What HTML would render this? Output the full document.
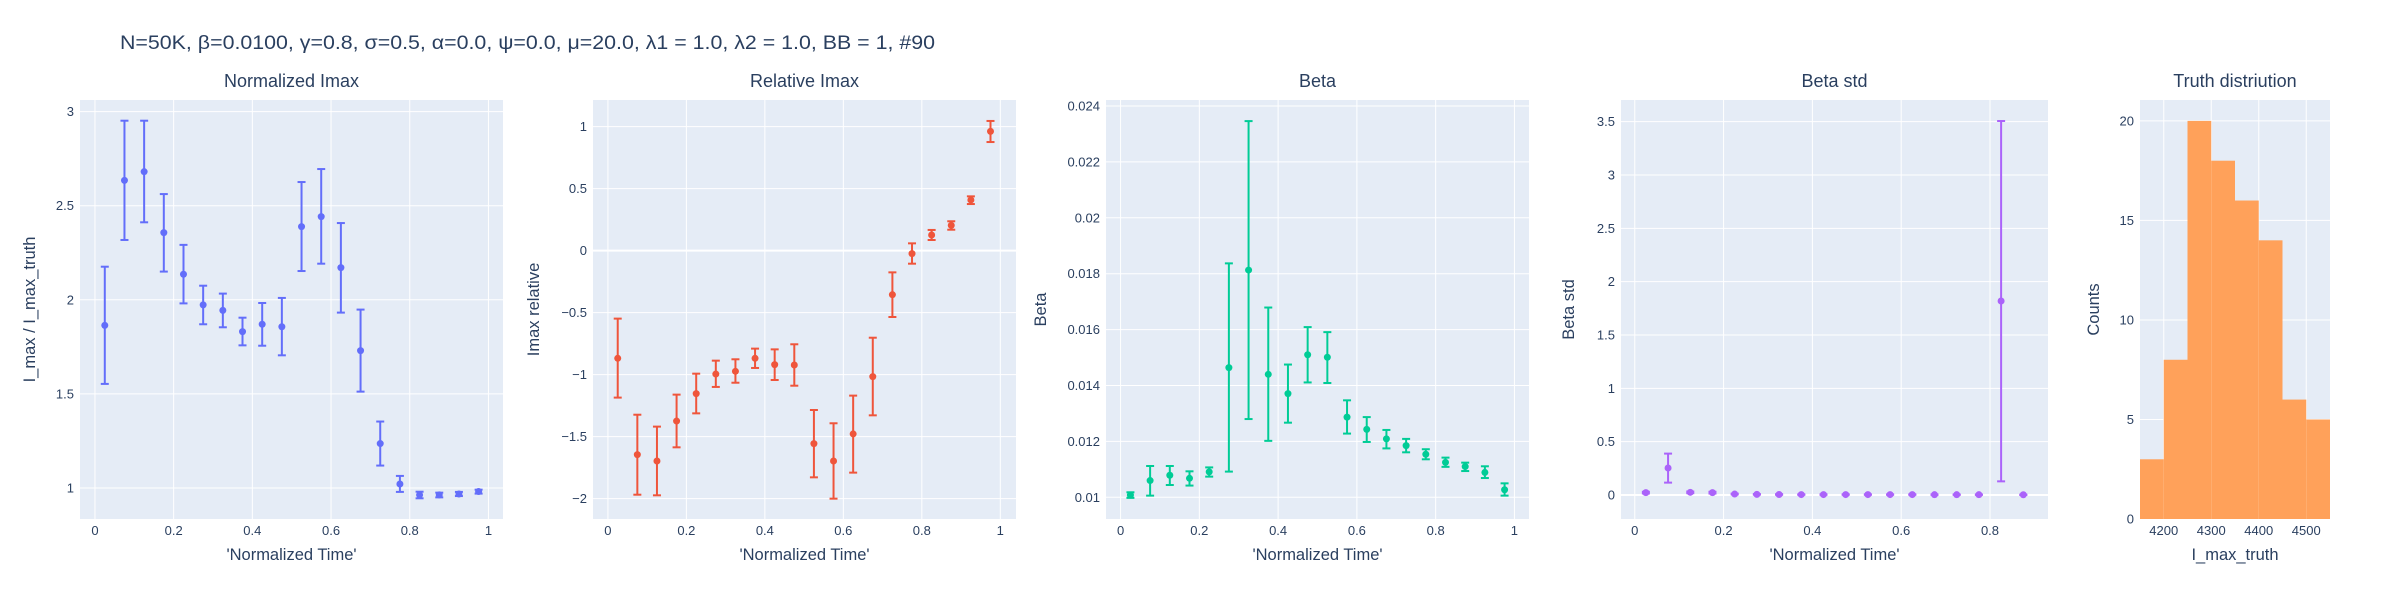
<!DOCTYPE html>
<html><head><meta charset="utf-8"><style>
html,body{margin:0;padding:0;background:#fff;}
svg{display:block;font-family:"Liberation Sans","DejaVu Sans",sans-serif;}
</style></head><body>
<svg id="chart" width="2400" height="600" viewBox="0 0 2400 600" xmlns="http://www.w3.org/2000/svg">
<text x="120" y="49" font-size="19" textLength="815" lengthAdjust="spacingAndGlyphs" fill="#2a3f5f">N=50K, β=0.0100, γ=0.8, σ=0.5,  α=0.0, ψ=0.0, μ=20.0, λ1 = 1.0, λ2 = 1.0, BB = 1, #90</text>
</svg>
<script>
// ---- data ----
const tX = [0.025,0.075,0.125,0.175,0.225,0.275,0.325,0.375,0.425,0.475,0.525,0.575,0.625,0.675,0.725,0.775,0.825,0.875,0.925,0.975];
const normY  = [1.864,2.635,2.681,2.357,2.136,1.973,1.944,1.831,1.870,1.857,2.389,2.442,2.171,1.730,1.236,1.021,0.963,0.963,0.968,0.981];
const normHi = [2.176,2.952,2.952,2.562,2.292,2.075,2.033,1.905,1.983,2.010,2.626,2.695,2.408,1.948,1.353,1.064,0.980,0.975,0.979,0.991];
const normLo = [1.553,2.318,2.412,2.150,1.981,1.870,1.854,1.758,1.756,1.705,2.153,2.192,1.932,1.512,1.119,0.979,0.945,0.950,0.957,0.970];
const relY  = [-0.868,-1.645,-1.696,-1.374,-1.153,-0.995,-0.973,-0.868,-0.919,-0.922,-1.556,-1.696,-1.478,-1.016,-0.355,-0.024,0.126,0.204,0.409,0.962];
const relHi = [-0.548,-1.323,-1.419,-1.161,-0.992,-0.887,-0.876,-0.790,-0.796,-0.755,-1.285,-1.392,-1.169,-0.702,-0.175,0.059,0.167,0.237,0.438,1.046];
const relLo = [-1.185,-1.968,-1.973,-1.586,-1.312,-1.099,-1.065,-0.946,-1.043,-1.089,-1.828,-2.000,-1.790,-1.328,-0.535,-0.105,0.086,0.169,0.376,0.876];
const betaY  = [0.01008,0.01060,0.01079,0.01068,0.01091,0.01464,0.01813,0.01440,0.01371,0.01510,0.01501,0.01287,0.01243,0.01209,0.01185,0.01154,0.01125,0.01110,0.01089,0.01027];
const betaHi = [0.01018,0.01112,0.01112,0.01093,0.01107,0.01837,0.02346,0.01679,0.01475,0.01609,0.01591,0.01347,0.01287,0.01241,0.01209,0.01172,0.01142,0.01124,0.01111,0.01050];
const betaLo = [0.00998,0.01006,0.01044,0.01042,0.01074,0.01092,0.01280,0.01202,0.01267,0.01411,0.01409,0.01228,0.01198,0.01175,0.01161,0.01136,0.01109,0.01094,0.01069,0.01006];
const stdX  = [0.025,0.075,0.125,0.175,0.225,0.275,0.325,0.375,0.425,0.475,0.525,0.575,0.625,0.675,0.725,0.775,0.825,0.875];
const stdY  = [0.022,0.253,0.025,0.022,0.009,0.006,0.005,0.004,0.004,0.004,0.004,0.004,0.004,0.003,0.003,0.003,1.819,0.002];
const stdHi = [0.030,0.388,0.033,0.030,0.013,0.009,0.008,0.006,0.006,0.006,0.006,0.006,0.006,0.005,0.005,0.005,3.506,0.004];
const stdLo = [0.014,0.116,0.017,0.014,0.005,0.003,0.002,0.002,0.002,0.002,0.002,0.002,0.002,0.001,0.001,0.001,0.128,0.000];
const histEdges = [4150,4200,4250,4300,4350,4400,4450,4500,4550];
const histCounts = [3,8,20,18,16,14,6,5];
const timeTicks = [0,0.2,0.4,0.6,0.8,1];
const normTicks = [1,1.5,2,2.5,3];
const relTicks = [-2,-1.5,-1,-0.5,0,0.5,1];
const betaTicks = [0.01,0.012,0.014,0.016,0.018,0.02,0.022,0.024];
const stdTimeTicks = [0,0.2,0.4,0.6,0.8];
const stdTicks = [0,0.5,1,1.5,2,2.5,3,3.5];
const histXTicks = [4200,4300,4400,4500];
const histYTicks = [0,5,10,15,20];

const NS = "http://www.w3.org/2000/svg";
const svg = document.getElementById('chart');
function mk(tag, attrs, parent){ const e=document.createElementNS(NS,tag); for(const k in attrs) e.setAttribute(k,attrs[k]); (parent||svg).appendChild(e); return e; }
function txt(s, attrs, parent){ const e=mk('text',attrs,parent); e.textContent=s; return e; }
function fmt(v){ let s=String(+v.toFixed(4)); return s.replace('-', '\u2212'); }

function panel(cfg){
  const g = mk('g',{});
  
  
  const {x0,x1,y0,y1,xd,yd} = cfg;
  const sx = v => x0 + (v-xd[0])/(xd[1]-xd[0])*(x1-x0);
  const sy = v => y1 - (v-yd[0])/(yd[1]-yd[0])*(y1-y0);
  const bg = mk('rect',{x:x0,y:y0,width:x1-x0,height:y1-y0,fill:'#E5ECF6'},g);
  
  
  cfg.xt.forEach(t=>{
    mk('line',{x1:sx(t),x2:sx(t),y1:y0,y2:y1,stroke:'#fff','stroke-width':1},g);
    const l = txt(cfg.xfmt?cfg.xfmt(t):fmt(t),{x:sx(t),y:y1+16,'font-size':13,fill:'#2a3f5f','text-anchor':'middle'},g);
    
    
  });
  cfg.yt.forEach(t=>{
    mk('line',{x1:x0,x2:x1,y1:sy(t),y2:sy(t),stroke:'#fff','stroke-width':Math.abs(t)<1e-12?2:1},g);
    const l = txt(fmt(t),{x:x0-6,y:sy(t)+4.5,'font-size':13,fill:'#2a3f5f','text-anchor':'end'},g);
    
    
  });
  const t = txt(cfg.title,{x:(x0+x1)/2,y:y0-13,'font-size':18,fill:'#2a3f5f','text-anchor':'middle'},g);
  
  
  const xa = txt(cfg.xtitle,{x:(x0+x1)/2,y:560,'font-size':16.5,fill:'#2a3f5f','text-anchor':'middle'},g);
  
  
  const cy=(y0+y1)/2;
  const ya = txt(cfg.ytitle,{x:cfg.ytx,y:cy,'font-size':16.5,fill:'#2a3f5f','text-anchor':'middle',transform:`rotate(-90 ${cfg.ytx} ${cy})`},g);
  
  
  if(cfg.hist){
    for(let i=0;i<cfg.counts.length;i++){
      const r = mk('rect',{x:sx(cfg.edges[i]),y:sy(cfg.counts[i]),width:sx(cfg.edges[i+1])-sx(cfg.edges[i]),height:y1-sy(cfg.counts[i]),fill:cfg.color},g);
      
      
    }
  } else {
    for(let i=0;i<cfg.xs.length;i++){
      const px=sx(cfg.xs[i]);
      const pt = mk('g',{},g);
      
      
      mk('line',{x1:px,x2:px,y1:sy(cfg.hi[i]),y2:sy(cfg.lo[i]),stroke:cfg.color,'stroke-width':2},pt);
      mk('line',{x1:px-4,x2:px+4,y1:sy(cfg.hi[i]),y2:sy(cfg.hi[i]),stroke:cfg.color,'stroke-width':2},pt);
      mk('line',{x1:px-4,x2:px+4,y1:sy(cfg.lo[i]),y2:sy(cfg.lo[i]),stroke:cfg.color,'stroke-width':2},pt);
      mk('circle',{cx:px,cy:sy(cfg.ys[i]),r:3.5,fill:cfg.color},pt);
    }
  }
}
panel({name:'normalized-imax-panel',title:'Normalized Imax',xtitle:"'Normalized Time'",ytitle:'I_max / I_max_truth',ytx:35,
  x0:80,x1:503,y0:100,y1:519,xd:[-0.038,1.037],yd:[0.835,3.062],xt:timeTicks,yt:normTicks,
  xs:tX,ys:normY,hi:normHi,lo:normLo,color:'#636efa'});
panel({name:'relative-imax-panel',title:'Relative Imax',xtitle:"'Normalized Time'",ytitle:'Imax relative',ytx:539,
  x0:593,x1:1016,y0:100,y1:519,xd:[-0.038,1.04],yd:[-2.164,1.215],xt:timeTicks,yt:relTicks,
  xs:tX,ys:relY,hi:relHi,lo:relLo,color:'#EF553B'});
panel({name:'beta-panel',title:'Beta',xtitle:"'Normalized Time'",ytitle:'Beta',ytx:1046,
  x0:1106,x1:1529,y0:100,y1:519,xd:[-0.037,1.037],yd:[0.009224,0.024215],xt:timeTicks,yt:betaTicks,
  xs:tX,ys:betaY,hi:betaHi,lo:betaLo,color:'#00cc96'});
panel({name:'beta-std-panel',title:'Beta std',xtitle:"'Normalized Time'",ytitle:'Beta std',ytx:1574,
  x0:1621,x1:2048,y0:100,y1:519,xd:[-0.031,0.9306],yd:[-0.225,3.703],xt:stdTimeTicks,yt:stdTicks,
  xs:stdX,ys:stdY,hi:stdHi,lo:stdLo,color:'#ab63fa'});
panel({name:'truth-distribution-panel',title:'Truth distriution',xtitle:'I_max_truth',ytitle:'Counts',ytx:2099,
  x0:2140,x1:2330,y0:100,y1:519,xd:[4150,4550],yd:[0,21.05],xt:histXTicks,yt:histYTicks,xfmt:v=>String(v),
  hist:true,edges:histEdges,counts:histCounts,color:'#FFA15A'});
</script>
</body></html>
